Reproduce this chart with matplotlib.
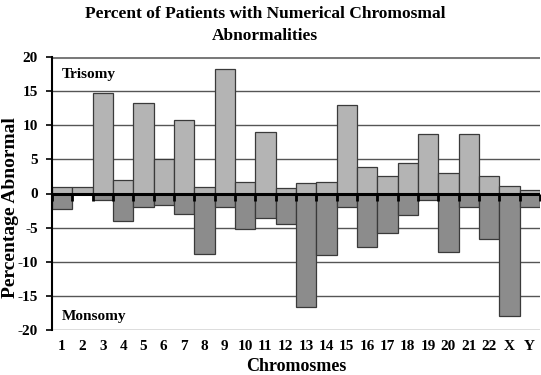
import matplotlib.pyplot as plt
import numpy as np

chromosomes = [str(i) for i in range(1, 23)] + ["X", "Y"]
trisomy = [0.9, 1.0, 14.7, 2.0, 13.2, 5.0, 10.8, 0.9, 18.2, 1.7, 9.0, 0.8,
           1.55, 1.75, 13.0, 3.9, 2.6, 4.4, 8.65, 3.0, 8.65, 2.6, 1.1, 0.5]
monosomy = [-2.3, 0.0, -0.9, -4.0, -2.0, -1.75, -3.0, -8.9, -2.0, -5.25, -3.65, -4.4,
            -16.7, -8.95, -1.95, -7.9, -5.75, -3.2, -1.0, -8.6, -2.0, -6.6, -17.9, -1.95]
yticks = [20, 15, 10, 5, 0, -5, -10, -15, -20]

plt.rcParams['font.family'] = ['Liberation Serif', 'DejaVu Serif']
plt.rcParams['font.weight'] = 'bold'

fig = plt.figure(figsize=(5.41, 3.75), dpi=100)
ax = fig.add_axes([0.096, 0.12, 0.902, 0.728])

x = np.arange(len(chromosomes))
ax.bar(x, trisomy, width=1.0, color='#b4b4b4', edgecolor='#3a3a3a', linewidth=0.9, zorder=3)
ax.bar(x, monosomy, width=1.0, color='#8c8c8c', edgecolor='#3a3a3a', linewidth=0.9, zorder=3)

# gridlines
for v in yticks:
    if v == 0:
        continue
    lw = 2.2 if v == 20 else 1.0
    ax.axhline(v, color='#555555' if v != 20 else '#7a7a7a', linewidth=lw, zorder=1)
ax.axhline(0, color='black', linewidth=2.2, zorder=5)
# boundary tick marks under the zero line
ax.plot(np.arange(len(chromosomes) + 1) - 0.5, np.zeros(len(chromosomes) + 1),
        linestyle='none', marker=3, markersize=5, markeredgewidth=2.0, color='black', zorder=6)

ax.set_xlim(-0.5, len(chromosomes) - 0.5)
ax.set_ylim(-20, 20)
ax.set_yticks(yticks)
ax.set_yticklabels([str(v) for v in yticks], fontsize=11, fontweight='bold')
ax.set_xticks(x)
ax.set_xticklabels(chromosomes, fontsize=11, fontweight='bold')
ax.tick_params(axis='x', length=0, pad=7)
ax.tick_params(axis='y', length=4, width=1.2, color='black', pad=6)

for s in ['top', 'right', 'bottom']:
    ax.spines[s].set_visible(False)
ax.spines['left'].set_color('black')
ax.spines['left'].set_linewidth(1.5)
ax.spines['left'].set_zorder(6)

ax.text(0.02, 0.935, 'Trisomy', transform=ax.transAxes, fontsize=11, fontweight='bold', va='center')
ax.text(0.02, 0.05, 'Monsomy', transform=ax.transAxes, fontsize=11, fontweight='bold', va='center')

ax.set_xlabel('Chromosmes', fontsize=13, fontweight='bold', labelpad=4)
ax.set_ylabel('Percentage Abnormal', fontsize=14, fontweight='bold')
ax.yaxis.set_label_coords(-0.067, 0.45)
fig.text(0.49, 0.985, 'Percent of Patients with Numerical Chromosmal\nAbnormalities',
         fontsize=12.5, fontweight='bold', ha='center', va='top', linespacing=1.55)

fig.savefig('out.png', dpi=100)
